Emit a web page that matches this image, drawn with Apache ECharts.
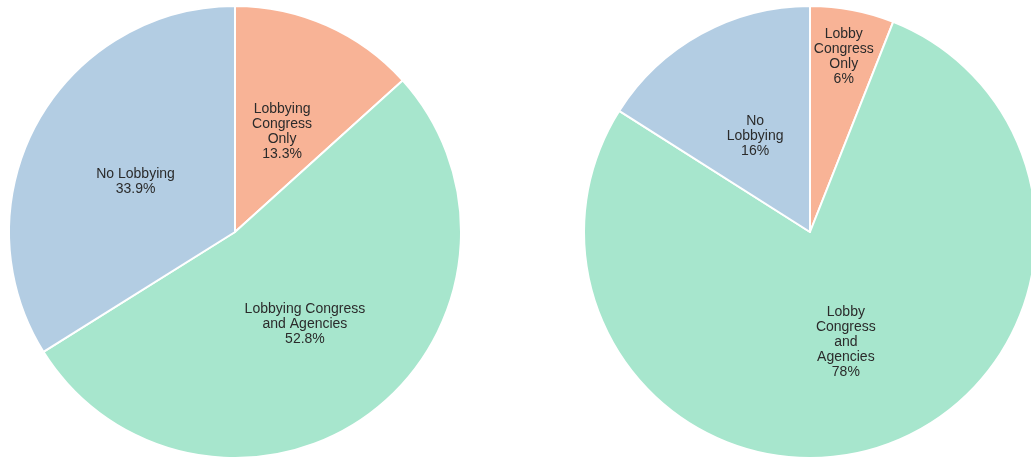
<!DOCTYPE html>
<html>
<head>
<meta charset="utf-8">
<title>Lobbying activity</title>
<script src="https://cdn.jsdelivr.net/npm/echarts@6/dist/echarts.min.js"></script>
<style>
  html, body { margin: 0; padding: 0; background: #ffffff; }
  #chart { width: 1031px; height: 460px; }
</style>
</head>
<body>
<div id="chart"></div>
<script>
// Slice names (line breaks are part of the drawn labels)
const leftNames = ['Lobbying\nCongress\nOnly', 'Lobbying Congress\nand Agencies', 'No Lobbying'];
const leftValues = [13.3, 52.8, 33.9];

const rightNames = ['Lobby\nCongress\nOnly', 'Lobby\nCongress\nand\nAgencies', 'No\nLobbying'];
const rightValues = [6, 78, 16];

const sliceColors = ['#f8b396', '#a7e6cd', '#b3cde3'];

function buildData(names, values) {
  return names.map((n, i) => ({
    name: n,
    value: values[i],
    itemStyle: { color: sliceColors[i] }
  }));
}

const labelStyle = {
  show: true,
  position: 'inside',
  formatter: p => p.name + '\n' + p.value + '%',
  color: '#2b2b2b',
  fontFamily: 'Liberation Sans, Arial, sans-serif',
  fontSize: 14,
  lineHeight: 15,
  align: 'center'
};

// small nudges for labels in the upper half of each pie
const leftShift = [{ dx: 0, dy: 6 }, {}, { dx: 2, dy: 6 }];
const rightShift = [{ dx: 12, dy: -61 }, {}, { dx: 1, dy: 6 }];

const chart = echarts.init(document.getElementById('chart'), null, { renderer: 'canvas' });

chart.setOption({
  animation: false,
  series: [
    {
      type: 'pie',
      center: [235, 232],
      radius: 226,
      startAngle: 90,
      clockwise: true,
      label: labelStyle,
      labelLine: { show: false },
      labelLayout: p => leftShift[p.dataIndex],
      itemStyle: { borderColor: '#ffffff', borderWidth: 2 },
      emphasis: { disabled: true },
      data: buildData(leftNames, leftValues)
    },
    {
      type: 'pie',
      center: [810, 232],
      radius: 226,
      startAngle: 90,
      clockwise: true,
      label: labelStyle,
      labelLine: { show: false },
      labelLayout: p => rightShift[p.dataIndex],
      itemStyle: { borderColor: '#ffffff', borderWidth: 2 },
      emphasis: { disabled: true },
      data: buildData(rightNames, rightValues)
    }
  ]
});
</script>
</body>
</html>
